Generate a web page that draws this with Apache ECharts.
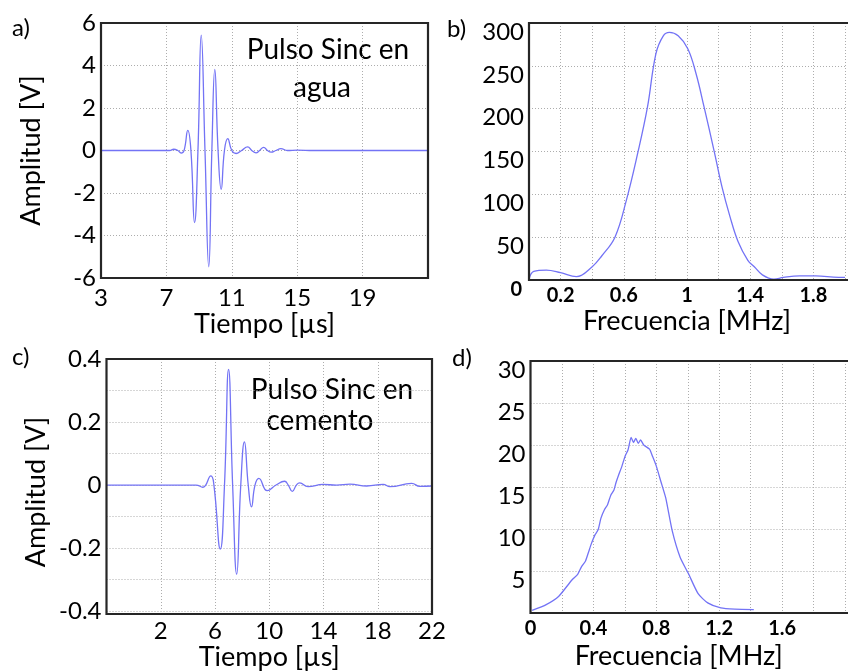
<!DOCTYPE html>
<html>
<head>
<meta charset="utf-8">
<script src="https://cdn.jsdelivr.net/npm/echarts@6/dist/echarts.min.js"></script>
<style>
  html, body { margin: 0; padding: 0; background: #fff; }
  #chart { width: 848px; height: 672px; }
</style>
</head>
<body>
<div id="chart"></div>
<script>
// a) pulse in water
const waterTime = [3, 6, 7.2, 7.45, 7.7, 7.9, 8.08, 8.31, 8.5, 8.72, 8.93, 9.13, 9.36, 9.59, 9.78, 9.96, 10.16, 10.35, 10.55, 10.75, 11.0, 11.26, 11.6, 11.97, 12.22, 12.48, 12.7, 12.95, 13.18, 13.4, 13.7, 14.0, 14.4, 15, 16, 23];
const waterAmp = [0, 0, 0, 0.06, 0, -0.12, 0, 0.95, 0, -3.39, 0, 5.43, 0, -5.47, 0, 3.82, 0, -1.83, 0, 0.56, 0, -0.14, 0, 0.17, 0, -0.11, 0, 0.15, 0, -0.08, 0, 0.09, 0, 0.02, 0, 0];

// b) spectrum in water
const waterFreq = [0, 0.03, 0.11, 0.2, 0.3, 0.4, 0.46, 0.544, 0.616, 0.688, 0.75, 0.803, 0.85, 0.889, 0.944, 1.005, 1.057, 1.108, 1.17, 1.221, 1.272, 1.323, 1.385, 1.426, 1.477, 1.55, 1.61, 1.713, 1.815, 1.96, 2.0];
const waterMag = [1, 10, 11.5, 8.5, 4, 15.5, 28, 50, 93, 148, 202, 264, 285, 289, 285, 270, 241, 202, 152, 109, 74, 45, 23, 15.5, 6, 1, 3, 4.7, 4.7, 3, 3];

// c) pulse in cement
const cementTime = [-2, 2, 4.6, 5.1, 5.7, 5.92, 6.39, 6.7, 7.0, 7.3, 7.6, 7.9, 8.17, 8.45, 8.69, 8.95, 9.23, 9.85, 10.5, 11.13, 11.4, 11.7, 12.0, 12.24, 12.86, 13.97, 14.96, 15.95, 17.19, 18.4, 18.9, 20.5, 21.1, 22];
const cementAmp = [0, 0, 0, -0.007, 0.029, 0, -0.203, 0, 0.367, 0, -0.283, 0, 0.137, 0, -0.069, 0, 0.021, -0.018, 0, 0.012, 0, -0.02, 0, 0.007, -0.005, 0.002, 0, 0.003, -0.003, 0.002, -0.005, 0.005, -0.004, -0.003];

// d) spectrum in cement
const cementFreq = [0.01, 0.1, 0.18, 0.262, 0.3, 0.324, 0.35, 0.37, 0.386, 0.41, 0.43, 0.448, 0.47, 0.49, 0.51, 0.53, 0.545, 0.56, 0.58, 0.602, 0.62, 0.64, 0.655, 0.67, 0.685, 0.7, 0.72, 0.757, 0.775, 0.798, 0.83, 0.86, 0.901, 0.952, 1.004, 1.066, 1.127, 1.21, 1.3, 1.42];
const cementMag = [0.3, 1.0, 2.0, 3.9, 4.6, 5.5, 6.2, 7.3, 8.2, 9.3, 9.9, 11.3, 12.3, 12.9, 14.0, 14.6, 15.6, 16.4, 17.4, 18.7, 19.4, 20.9, 20.3, 20.8, 20.2, 20.6, 20.0, 19.5, 18.7, 17.6, 15.6, 13.7, 9.8, 6.6, 4.7, 2.3, 1.2, 0.6, 0.45, 0.4];

const zip = (xs, ys) => xs.map((x, i) => [x, ys[i]]);

const FONT = 'Lato';
const lineColor = '#7373f5';
const gridLine = () => ({ show: true, lineStyle: { color: '#adadad', width: 1, type: [1, 2] } });
const tickLabel = { color: '#000', fontFamily: FONT, fontSize: 24 };
const boldLabel = { color: '#000', fontFamily: FONT, fontSize: 20, fontWeight: 'bold' };
const nameStyle = { color: '#000', fontFamily: FONT, fontSize: 27 };
const tenths = v => Math.round(v * 10);
// labels of b) and d) sit a little below their grid line
const lowered = {
  n: { fontFamily: FONT, fontSize: 24, color: '#000', padding: [18, 0, 0, 0] },
  z: { fontFamily: FONT, fontSize: 20, fontWeight: 'bold', color: '#000', padding: [20, 2, 0, 0] }
};

// panel layout (pixels), used for the grids and their black frames
const boxes = [
  { left: 101, top: 23, width: 327, height: 255 },
  { left: 529, top: 23, width: 325, height: 257 },
  { left: 106.5, top: 359, width: 325.5, height: 255 },
  { left: 530.5, top: 361, width: 324, height: 252 }
];

// axis ranges of each panel
const xRanges = [[3, 23, 4], [0, 2, 0.2], [-2, 22, 4], [0, 2, 0.2]];
const yRanges = [[-6, 6, 2], [0, 300, 50], [-0.4, 0.4, 0.1], [0, 30, 5]];

const chart = echarts.init(document.getElementById('chart'));

const xAxes = [
  {
    axisLabel: Object.assign({ margin: 8, formatter: v => (v === 23 ? '' : String(v)) }, tickLabel),
    name: 'Tiempo [µs]', nameLocation: 'middle', nameGap: 28, nameTextStyle: nameStyle
  },
  {
    axisLabel: Object.assign({
      margin: 6,
      formatter: v => ([2, 6, 10, 14, 18].includes(tenths(v)) ? String(tenths(v) / 10) : '')
    }, boldLabel),
    name: 'Frecuencia [MHz]', nameLocation: 'middle', nameGap: 28, nameTextStyle: nameStyle
  },
  {
    axisLabel: Object.assign({ margin: 8, formatter: v => (v === -2 ? '' : String(v)) }, tickLabel),
    name: 'Tiempo [µs]', nameLocation: 'middle', nameGap: 31, nameTextStyle: nameStyle
  },
  {
    axisLabel: Object.assign({
      margin: 6,
      formatter: v => ([0, 4, 8, 12, 16].includes(tenths(v)) ? String(tenths(v) / 10) : '')
    }, boldLabel),
    name: 'Frecuencia [MHz]', nameLocation: 'middle', nameGap: 30,
    nameTextStyle: Object.assign({ padding: [0, 18, 0, 0] }, nameStyle)
  }
].map((a, i) => Object.assign({
  gridIndex: i, type: 'value', position: 'bottom',
  min: xRanges[i][0], max: xRanges[i][1], interval: xRanges[i][2],
  axisLine: { show: false }, axisTick: { show: false }, splitLine: gridLine()
}, a));

const yAxes = [
  {
    axisLabel: Object.assign({ margin: 5 }, tickLabel),
    name: 'Amplitud [V]', nameLocation: 'middle', nameGap: 56, nameTextStyle: nameStyle
  },
  {
    axisLabel: Object.assign({
      margin: 5,
      formatter: v => (v === 0 ? '{z|0}' : '{n|' + v + '}'),
      rich: lowered
    }, tickLabel)
  },
  {
    axisLabel: Object.assign({
      margin: 5,
      formatter: v => (tenths(v) % 2 === 0 ? String(tenths(v) / 10) : '')
    }, tickLabel),
    name: 'Amplitud [V]', nameLocation: 'middle', nameGap: 57,
    nameTextStyle: Object.assign({ padding: [0, 14, 0, 0] }, nameStyle)
  },
  {
    axisLabel: Object.assign({
      margin: 5,
      formatter: v => (v === 0 ? '' : '{n|' + v + '}'),
      rich: lowered
    }, tickLabel)
  }
].map((a, i) => Object.assign({
  gridIndex: i, type: 'value', position: 'left',
  min: yRanges[i][0], max: yRanges[i][1], interval: yRanges[i][2],
  axisLine: { show: false }, axisTick: { show: false }, splitLine: gridLine()
}, a));

// black box round each plot area, drawn on top of the grid lines
const frames = boxes.map(b => ({
  type: 'rect', silent: true, z: 100,
  shape: { x: b.left, y: b.top, width: b.width, height: b.height },
  style: { fill: 'none', stroke: '#262626', lineWidth: 2.2 }
}));

const texts = [
  { type: 'text', left: 12, top: 16, style: { text: 'a)', font: '24px Lato', fill: '#000' } },
  { type: 'text', left: 447, top: 17, style: { text: 'b)', font: '24px Lato', fill: '#000' } },
  { type: 'text', left: 12, top: 345, style: { text: 'c)', font: '24px Lato', fill: '#000' } },
  { type: 'text', left: 452, top: 346, style: { text: 'd)', font: '24px Lato', fill: '#000' } },
  { type: 'text', x: 328, y: 50, style: { text: 'Pulso Sinc en', font: '28px Lato', fill: '#000', textAlign: 'center', textVerticalAlign: 'middle' } },
  { type: 'text', x: 322, y: 88, style: { text: 'agua', font: '28px Lato', fill: '#000', textAlign: 'center', textVerticalAlign: 'middle' } },
  { type: 'text', x: 332, y: 390, style: { text: 'Pulso Sinc en', font: '28px Lato', fill: '#000', textAlign: 'center', textVerticalAlign: 'middle' } },
  { type: 'text', x: 320, y: 421, style: { text: 'cemento', font: '28px Lato', fill: '#000', textAlign: 'center', textVerticalAlign: 'middle' } }
];

chart.setOption({
  animation: false,
  grid: boxes.map(b => Object.assign({}, b)),
  xAxis: xAxes,
  yAxis: yAxes,
  series: [
    { xAxisIndex: 0, yAxisIndex: 0, data: zip(waterTime, waterAmp), smooth: 0.5 },
    { xAxisIndex: 1, yAxisIndex: 1, data: zip(waterFreq, waterMag), smooth: 0.4 },
    { xAxisIndex: 2, yAxisIndex: 2, data: zip(cementTime, cementAmp), smooth: 0.5 },
    { xAxisIndex: 3, yAxisIndex: 3, data: zip(cementFreq, cementMag), smooth: 0.2 }
  ].map(s => Object.assign(s, {
    type: 'line', showSymbol: false, clip: true,
    lineStyle: { color: lineColor, width: 1.3 }, itemStyle: { color: lineColor }
  })),
  graphic: frames.concat(texts)
});
</script>
</body>
</html>
